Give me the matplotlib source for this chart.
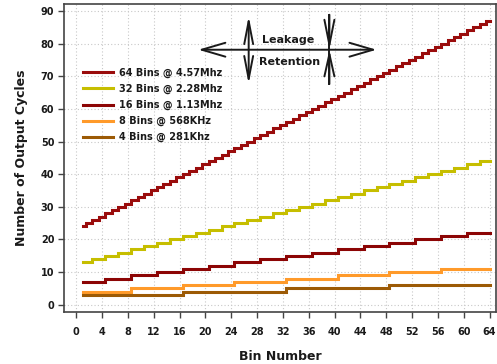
import numpy as np
import matplotlib
matplotlib.use("Agg")
import matplotlib.pyplot as plt

plt.rcParams['font.family'] = ['DejaVu Sans']
plt.rcParams['font.weight'] = 'bold'

# bin numbers on the x axis
bins = np.arange(1, 65)

labels = ['64 Bins @ 4.57Mhz', '32 Bins @ 2.28Mhz', '16 Bins @ 1.13Mhz',
          '8 Bins @ 568KHz', '4 Bins @ 281Khz']
levels_64 = [24, 25, 26, 27, 28, 29, 30, 31, 32, 33, 34, 35, 36, 37, 38, 39,
             40, 41, 42, 43, 44, 45, 46, 47, 48, 49, 50, 51, 52, 53, 54, 55,
             56, 57, 58, 59, 60, 61, 62, 63, 64, 65, 66, 67, 68, 69, 70, 71,
             72, 73, 74, 75, 76, 77, 78, 79, 80, 81, 82, 83, 84, 85, 86, 87]
levels_32 = [13, 14, 15, 16, 17, 18, 19, 20, 21, 22, 23, 24, 25, 26, 27, 28,
             29, 30, 31, 32, 33, 34, 35, 36, 37, 38, 39, 40, 41, 42, 43, 44]
levels_16 = [7, 8, 9, 10, 11, 12, 13, 14, 15, 16, 17, 18, 19, 20, 21, 22]
levels_8 = [4, 5, 6, 7, 8, 9, 10, 11]
levels_4 = [3, 4, 5, 6]
bins_per_level = [1, 2, 4, 8, 16]
colors = ['#9a0c0c', '#c6be00', '#8c0505', '#ff9a2a', '#9c5a05']

x_ticks = np.arange(0, 65, 4)
y_ticks = np.arange(0, 91, 10)

fig = plt.figure(figsize=(4.97, 3.64), dpi=100)
ax = fig.add_axes([64 / 497, 52 / 364, 432 / 497, 308 / 364])

all_levels = [levels_64, levels_32, levels_16, levels_8, levels_4]
for lev, n, c, lab in zip(all_levels, bins_per_level, colors, labels):
    y = np.repeat(lev, n)
    ax.plot(bins, y, drawstyle='steps-mid', color=c, lw=2.2, label=lab,
            solid_joinstyle='miter')

ax.set_xlim(-1.9, 65.0)
ax.set_ylim(-2.2, 92.1)
ax.set_xticks(x_ticks)
ax.set_yticks(y_ticks)
ax.grid(True, color='#c8c8c8', lw=0.8, linestyle=(0, (1, 2)))
ax.set_axisbelow(True)
for s in ax.spines.values():
    s.set_color('#444444')
    s.set_linewidth(1.2)
ax.tick_params(axis='both', direction='out', length=4, width=1,
               color='#444444', labelsize=7, labelcolor='#1a1a1a')
ax.tick_params(axis='x', pad=7)
ax.tick_params(axis='y', pad=3)

ax.set_xlabel('Bin Number', fontsize=9, fontweight='bold', labelpad=9,
              color='#1a1a1a')
ax.set_ylabel('Number of Output Cycles', fontsize=9, fontweight='bold',
              labelpad=9, color='#1a1a1a')

ax.legend(loc='upper left', bbox_to_anchor=(0.044, 0.793), frameon=False,
          fontsize=7, handlelength=3.1, handletextpad=0.6, labelspacing=0.6,
          borderpad=0, borderaxespad=0, labelcolor='#1a1a1a')

# leakage / retention arrows
ax.annotate('', xy=(18.9, 78.1), xytext=(46.5, 78.1),
            arrowprops=dict(arrowstyle='<->,head_length=1.7,head_width=0.5',
                            color='#1a1a1a', lw=1.4, shrinkA=0, shrinkB=0))
ax.annotate('', xy=(26.7, 88.4), xytext=(26.7, 67.6),
            arrowprops=dict(arrowstyle='<->,head_length=1.65,head_width=0.32',
                            color='#1a1a1a', lw=1.4, shrinkA=0, shrinkB=0))
ax.plot([39.2, 39.2], [67.6, 88.8], color='#1a1a1a', lw=1.4)
ax.annotate('', xy=(39.2, 78.1), xytext=(39.2, 88.8),
            arrowprops=dict(arrowstyle='->,head_length=1.8,head_width=0.36',
                            color='#1a1a1a', lw=1.4, shrinkA=0, shrinkB=0))
ax.annotate('', xy=(39.2, 78.1), xytext=(39.2, 67.6),
            arrowprops=dict(arrowstyle='->,head_length=1.6,head_width=0.36',
                            color='#1a1a1a', lw=1.4, shrinkA=0, shrinkB=0))
ax.text(32.8, 81.1, 'Leakage', fontsize=8, fontweight='bold',
        ha='center', va='center', color='#1a1a1a')
ax.text(33.1, 74.2, 'Retention', fontsize=8, fontweight='bold',
        ha='center', va='center', color='#1a1a1a')

fig.savefig('out.png', dpi=100)
